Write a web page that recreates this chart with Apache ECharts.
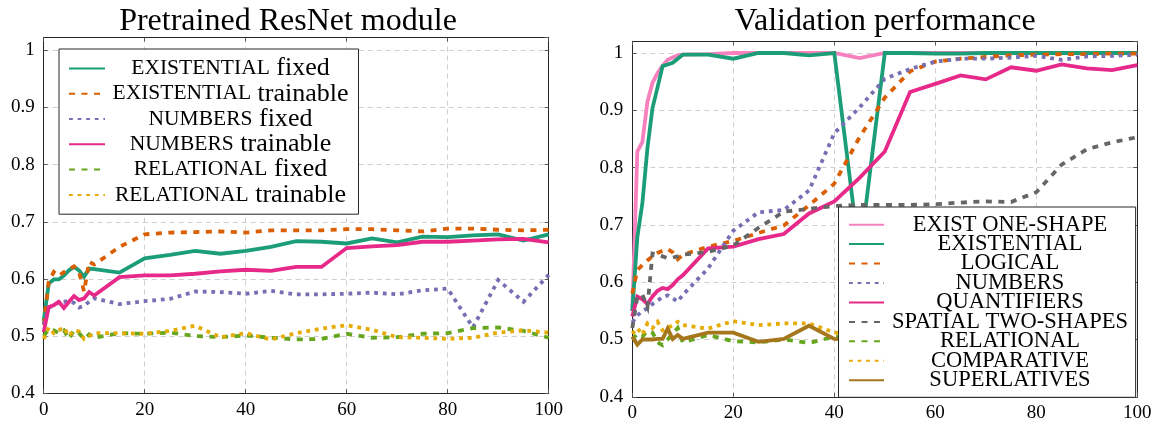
<!DOCTYPE html>
<html>
<head>
<meta charset="utf-8">
<title>Pretrained ResNet module / Validation performance</title>
<script src="https://cdn.jsdelivr.net/npm/echarts@6/dist/echarts.min.js"></script>
<style>
  html, body { margin: 0; padding: 0; background: #fff; }
  #chart { width: 1159px; height: 428px; }
</style>
</head>
<body>
<div id="chart"></div>
<script>
// Training epochs at which accuracy was recorded
const epochs = [0, 1, 2, 3, 4, 5, 6, 7, 8, 9, 10, 15, 20, 25, 30, 35, 40, 45, 50, 55, 60, 65, 70, 75, 80, 85, 90, 95, 100];

// Left panel: pretrained ResNet module, fixed vs. trainable
const existentialFixed     = [0.527, 0.592, 0.599, 0.599, 0.606, 0.615, 0.621, 0.615, 0.604, 0.618, 0.617, 0.611, 0.636, 0.642, 0.649, 0.644, 0.649, 0.656, 0.666, 0.665, 0.662, 0.671, 0.664, 0.674, 0.673, 0.676, 0.678, 0.667, 0.678];
const existentialTrainable = [0.520, 0.595, 0.612, 0.605, 0.612, 0.617, 0.622, 0.612, 0.578, 0.630, 0.625, 0.656, 0.678, 0.681, 0.682, 0.683, 0.681, 0.685, 0.685, 0.685, 0.687, 0.687, 0.685, 0.683, 0.688, 0.688, 0.686, 0.685, 0.686];
const numbersFixed         = [0.520, 0.550, 0.553, 0.560, 0.560, 0.562, 0.558, 0.550, 0.553, 0.560, 0.566, 0.556, 0.561, 0.565, 0.578, 0.577, 0.574, 0.579, 0.573, 0.573, 0.574, 0.576, 0.573, 0.580, 0.583, 0.515, 0.598, 0.560, 0.607];
const numbersTrainable     = [0.507, 0.551, 0.554, 0.560, 0.549, 0.560, 0.570, 0.563, 0.566, 0.577, 0.571, 0.603, 0.606, 0.606, 0.609, 0.613, 0.616, 0.614, 0.621, 0.621, 0.654, 0.657, 0.659, 0.665, 0.665, 0.667, 0.669, 0.670, 0.664];
const relationalFixed      = [0.500, 0.512, 0.510, 0.505, 0.510, 0.495, 0.510, 0.505, 0.495, 0.503, 0.497, 0.505, 0.504, 0.506, 0.500, 0.498, 0.501, 0.497, 0.494, 0.495, 0.504, 0.497, 0.498, 0.504, 0.505, 0.514, 0.515, 0.509, 0.497];
const relationalTrainable  = [0.495, 0.515, 0.505, 0.510, 0.515, 0.500, 0.510, 0.508, 0.495, 0.500, 0.505, 0.505, 0.504, 0.509, 0.518, 0.498, 0.505, 0.494, 0.505, 0.513, 0.519, 0.511, 0.498, 0.497, 0.495, 0.497, 0.506, 0.510, 0.506];

// Right panel: validation accuracy per task
const existOneShape = [0.550, 0.828, 0.845, 0.915, 0.948, 0.965, 0.978, 0.988, 0.992, 0.996, 0.997, 0.998, 1.000, 1.000, 1.000, 1.000, 1.000, 0.991, 1.000, 1.000, 1.000, 1.000, 1.000, 1.000, 1.000, 1.000, 1.000, 1.000, 1.000];
const existential   = [0.550, 0.679, 0.738, 0.834, 0.904, 0.940, 0.977, 0.980, 0.983, 0.990, 0.997, 0.997, 0.990, 1.000, 1.000, 0.996, 1.000, 0.645, 1.000, 1.000, 0.999, 0.999, 1.000, 1.000, 1.000, 1.000, 1.000, 1.000, 1.000];
const logical       = [0.580, 0.621, 0.630, 0.638, 0.645, 0.651, 0.655, 0.658, 0.652, 0.640, 0.648, 0.662, 0.672, 0.686, 0.699, 0.734, 0.772, 0.853, 0.922, 0.968, 0.985, 0.990, 0.993, 0.996, 0.997, 0.998, 0.998, 0.999, 0.999];
const numbers       = [0.530, 0.542, 0.550, 0.554, 0.562, 0.568, 0.574, 0.577, 0.572, 0.566, 0.578, 0.624, 0.690, 0.722, 0.726, 0.760, 0.860, 0.905, 0.955, 0.972, 0.985, 0.990, 0.990, 0.992, 0.995, 0.988, 0.994, 0.995, 0.997];
const quantifiers   = [0.540, 0.575, 0.570, 0.562, 0.575, 0.585, 0.590, 0.588, 0.595, 0.605, 0.612, 0.659, 0.662, 0.675, 0.684, 0.720, 0.741, 0.782, 0.828, 0.932, 0.946, 0.961, 0.954, 0.975, 0.969, 0.980, 0.973, 0.970, 0.979];
const spatialTwo    = [0.520, 0.575, 0.578, 0.557, 0.650, 0.648, 0.645, 0.642, 0.643, 0.645, 0.648, 0.653, 0.664, 0.695, 0.723, 0.728, 0.733, 0.735, 0.735, 0.735, 0.736, 0.739, 0.741, 0.740, 0.757, 0.805, 0.832, 0.844, 0.853];
const relational    = [0.500, 0.510, 0.505, 0.515, 0.512, 0.495, 0.490, 0.500, 0.510, 0.520, 0.495, 0.508, 0.497, 0.495, 0.500, 0.494, 0.505, 0.500];
const comparative   = [0.510, 0.520, 0.508, 0.528, 0.520, 0.531, 0.516, 0.520, 0.525, 0.531, 0.525, 0.519, 0.532, 0.525, 0.528, 0.528, 0.512, 0.510];
const superlatives  = [0.505, 0.491, 0.500, 0.500, 0.500, 0.501, 0.501, 0.519, 0.501, 0.508, 0.501, 0.512, 0.512, 0.496, 0.501, 0.524, 0.501, 0.500];

// Axis tick values
const xTicks = [0, 20, 40, 60, 80, 100];
const yTicks = [0.4, 0.5, 0.6, 0.7, 0.8, 0.9, 1];

const SERIF = 'Liberation Serif';
const C = {
  teal: '#1b9e77', orange: '#d95f02', purple: '#7570b3', magenta: '#e7298a',
  green: '#66a61e', yellow: '#e6ab02', brown: '#a6761d', gray: '#666666', pink: '#f781bf'
};
const SOLID = 'solid';
const DASHED = [6, 6.5];
const DOTTED = [3.8, 4.8];

function lineSeries(name, values, color, dash, panel) {
  return {
    type: 'line',
    name: name,
    xAxisIndex: panel * 2,
    yAxisIndex: panel * 2,
    data: values.map((v, i) => [epochs[i], v]),
    symbol: 'none',
    showSymbol: false,
    silent: true,
    lineStyle: { color: color, width: 3.8, type: dash, cap: 'butt', join: 'miter' },
    itemStyle: { color: color },
    emphasis: { disabled: true }
  };
}

const leftSeries = [
  lineSeries('EXISTENTIAL fixed', existentialFixed, C.teal, SOLID, 0),
  lineSeries('EXISTENTIAL trainable', existentialTrainable, C.orange, DASHED, 0),
  lineSeries('NUMBERS fixed', numbersFixed, C.purple, DOTTED, 0),
  lineSeries('NUMBERS trainable', numbersTrainable, C.magenta, SOLID, 0),
  lineSeries('RELATIONAL fixed', relationalFixed, C.green, DASHED, 0),
  lineSeries('RELATIONAL trainable', relationalTrainable, C.yellow, DOTTED, 0)
];
const rightSeries = [
  lineSeries('EXIST ONE-SHAPE', existOneShape, C.pink, SOLID, 1),
  lineSeries('EXISTENTIAL', existential, C.teal, SOLID, 1),
  lineSeries('LOGICAL', logical, C.orange, DASHED, 1),
  lineSeries('NUMBERS', numbers, C.purple, DOTTED, 1),
  lineSeries('QUANTIFIERS', quantifiers, C.magenta, SOLID, 1),
  lineSeries('SPATIAL TWO-SHAPES', spatialTwo, C.gray, DASHED, 1),
  lineSeries('RELATIONAL', relational, C.green, DASHED, 1),
  lineSeries('COMPARATIVE', comparative, C.yellow, DOTTED, 1),
  lineSeries('SUPERLATIVES', superlatives, C.brown, SOLID, 1)
];

const FRAME = '#262626';
const GRIDLINE = { show: true, lineStyle: { color: '#cfcfcf', width: 1, type: [5, 4] } };
const labelFont = { fontFamily: SERIF, fontSize: 19, color: '#000' };

function xAxes(grid) {
  const base = {
    type: 'value', gridIndex: grid, min: xTicks[0], max: xTicks[xTicks.length - 1],
    interval: xTicks[1] - xTicks[0],
    axisLine: { show: true, onZero: false, lineStyle: { color: FRAME, width: 1 } },
    axisTick: { show: true, inside: true, length: 4, lineStyle: { color: '#555' } }
  };
  return [
    Object.assign({}, base, { position: 'bottom', axisLabel: Object.assign({ margin: 7 }, labelFont), splitLine: GRIDLINE }),
    Object.assign({}, base, { position: 'top', axisLabel: { show: false }, splitLine: { show: false } })
  ];
}
function yAxes(grid, max) {
  const base = {
    type: 'value', gridIndex: grid, min: yTicks[0], max: max, interval: 0.1,
    axisLine: { show: true, onZero: false, lineStyle: { color: FRAME, width: 1 } },
    axisTick: { show: true, inside: true, length: 4, lineStyle: { color: '#555' } }
  };
  return [
    Object.assign({}, base, {
      position: 'left', splitLine: GRIDLINE,
      axisLabel: Object.assign({
        margin: 9, showMaxLabel: false,
        formatter: v => String(Math.round(v * 10) / 10)
      }, labelFont)
    }),
    Object.assign({}, base, { position: 'right', axisLabel: { show: false }, splitLine: { show: false } })
  ];
}

// Legend boxes: line samples only (marker hidden), text centred in its column.
// Row height follows the largest glyph box, so itemGap is tuned per legend.
const legendBase = {
  orient: 'vertical', backgroundColor: '#fff', borderColor: FRAME, borderWidth: 1,
  borderRadius: 0, selectedMode: false, itemStyle: { opacity: 0 }
};

const option = {
  animation: false,
  backgroundColor: '#fff',
  grid: [
    { left: 43.7, top: 37.5, width: 505, height: 355.7, containLabel: false, outerBoundsMode: 'none' },
    { left: 632.3, top: 41.3, width: 505, height: 355.5, containLabel: false, outerBoundsMode: 'none' }
  ],
  xAxis: xAxes(0).concat(xAxes(1)),
  yAxis: yAxes(0, 1.0224).concat(yAxes(1, 1.0204)),
  legend: [
    Object.assign({}, legendBase, {
      left: 59, top: 49, padding: [6.4, 10, 6.3, 9], itemGap: -0.7, itemWidth: 36, itemHeight: 14,
      data: leftSeries.map(s => s.name),
      formatter: name => {
        const i = name.indexOf(' ');
        return '{c|' + name.slice(0, i) + '}{l|' + name.slice(i) + '}';
      },
      textStyle: {
        width: 241,
        rich: {
          c: { fontFamily: SERIF, fontSize: 21.5, color: '#000', align: 'center' },
          l: { fontFamily: SERIF, fontSize: 26, color: '#000', align: 'center' }
        }
      }
    }),
    Object.assign({}, legendBase, {
      left: 838.5, top: 207, padding: [6.15, 7.6, 5.55, 9.5], itemGap: -3.55, itemWidth: 35, itemHeight: 12,
      data: rightSeries.map(s => s.name),
      formatter: name => '{c|' + name + '}',
      textStyle: {
        width: 242,
        rich: {
          c: { fontFamily: SERIF, fontSize: 22.5, color: '#000', align: 'center' }
        }
      }
    })
  ],
  graphic: [
    { type: 'text', x: 288, y: 22, silent: true,
      style: { text: 'Pretrained ResNet module', fontFamily: SERIF, fontSize: 32, fill: '#000', align: 'center', verticalAlign: 'middle' } },
    { type: 'text', x: 885, y: 22, silent: true,
      style: { text: 'Validation performance', fontFamily: SERIF, fontSize: 32, fill: '#000', align: 'center', verticalAlign: 'middle' } }
  ],
  series: leftSeries.concat(rightSeries)
};

const chart = echarts.init(document.getElementById('chart'), null, { renderer: 'canvas' });
chart.setOption(option);
</script>
</body>
</html>
